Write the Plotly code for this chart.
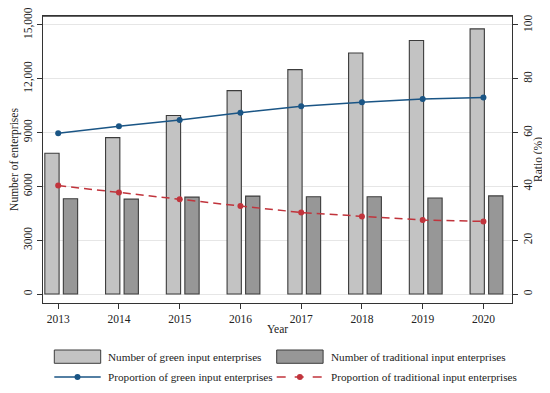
import plotly.graph_objects as go

years = [2013, 2014, 2015, 2016, 2017, 2018, 2019, 2020]
green_count = [7850, 8720, 9950, 11340, 12510, 13440, 14130, 14780]
trad_count = [5310, 5290, 5400, 5460, 5420, 5420, 5350, 5470]
green_ratio = [59.8, 62.4, 64.7, 67.4, 69.8, 71.3, 72.5, 73.0]
trad_ratio = [40.3, 37.7, 35.2, 32.7, 30.3, 28.8, 27.5, 27.0]

left_ticks = [0, 3000, 6000, 9000, 12000, 15000]
left_labels = ["0", "3000", "6000", "9000", "12,000", "15,000"]
right_ticks = [0, 20, 40, 60, 80, 100]

names = ["Number of green input enterprises", "Number of traditional input enterprises",
         "Proportion of green input enterprises", "Proportion of traditional input enterprises"]

FONT = "Liberation Serif"
GREEN_FILL = "#c3c3c3"
TRAD_FILL = "#979797"
EDGE = "#3c3c3c"
BLUE = "#1a5585"
RED = "#c1343c"

# page shows the figure offset by the default 8px body margin
OFF = 8
W, H = 550 - OFF, 393 - OFF
L, R, T, B = 43, 512, 16, 303  # plot area in window pixels

fig = go.Figure()
fig.add_trace(go.Bar(x=years, y=green_count, width=0.235, offset=-0.22,
                     marker=dict(color=GREEN_FILL, line=dict(color=EDGE, width=1.1)),
                     name=names[0], showlegend=False))
fig.add_trace(go.Bar(x=years, y=trad_count, width=0.235, offset=0.085,
                     marker=dict(color=TRAD_FILL, line=dict(color=EDGE, width=1.1)),
                     name=names[1], showlegend=False))
fig.add_trace(go.Scatter(x=years, y=green_ratio, yaxis="y2", mode="lines+markers",
                         line=dict(color=BLUE, width=1.5), marker=dict(color=BLUE, size=6),
                         name=names[2], showlegend=False))
fig.add_trace(go.Scatter(x=years, y=trad_ratio, yaxis="y2", mode="lines+markers",
                         line=dict(color=RED, width=1.5, dash="8px,5px"), marker=dict(color=RED, size=6),
                         name=names[3], showlegend=False))

def px(x):
    return (x - L) / (R - L)

def py(y):
    return (B - y) / (B - T)

shapes = []
annotations = []
# top frame line
shapes.append(dict(type="line", xref="paper", yref="paper", x0=0, x1=1, y0=1, y1=1,
                   line=dict(color="#333", width=1.3)))
# legend: bars
for x0, fill, nm in [(54.3, GREEN_FILL, names[0]), (276.7, TRAD_FILL, names[1])]:
    shapes.append(dict(type="rect", xref="paper", yref="paper",
                       x0=px(x0), x1=px(x0 + 46.4), y0=py(363.3), y1=py(350),
                       fillcolor=fill, line=dict(color=EDGE, width=1)))
    annotations.append(dict(x=px(x0 + 52), y=py(357), xref="paper", yref="paper",
                            text=nm, showarrow=False, xanchor="left", yanchor="middle",
                            font=dict(family=FONT, size=11.2, color="#222")))
# legend: lines
for x0, col, dash, nm in [(54.3, BLUE, "solid", names[2]), (276.7, RED, "dash", names[3])]:
    shapes.append(dict(type="line", xref="paper", yref="paper",
                       x0=px(x0), x1=px(x0 + 46.4), y0=py(377), y1=py(377),
                       line=dict(color=col, width=1.5, dash=dash)))
    cx = x0 + 23.2
    shapes.append(dict(type="circle", xref="paper", yref="paper",
                       x0=px(cx - 3), x1=px(cx + 3), y0=py(380), y1=py(374),
                       fillcolor=col, line=dict(color=col, width=0)))
    annotations.append(dict(x=px(x0 + 52), y=py(377), xref="paper", yref="paper",
                            text=nm, showarrow=False, xanchor="left", yanchor="middle",
                            font=dict(family=FONT, size=11.2, color="#222")))

# right axis title
annotations.append(dict(x=px(538), y=py(160), xref="paper", yref="paper",
                        text="Ratio (%)", textangle=-90, showarrow=False,
                        xanchor="center", yanchor="middle",
                        font=dict(family=FONT, size=11.5, color="#222")))

axis_line = dict(showline=True, linecolor="#333", linewidth=1.3, ticks="outside",
                 ticklen=5, tickcolor="#333", tickwidth=1.2, automargin=False,
                 ticklabeloverflow="allow")

fig.update_layout(
    width=W, height=H,
    margin=dict(l=L - OFF, r=550 - R, t=T - OFF, b=393 - B),
    paper_bgcolor="white", plot_bgcolor="white",
    font=dict(family=FONT, size=11.5, color="#222"),
    barmode="overlay",
    showlegend=False,
    xaxis=dict(range=[2012.75, 2020.47], tickvals=years, ticktext=[str(y) for y in years],
               showgrid=False, zeroline=False, mirror=True,
               title=dict(text="Year", standoff=0, font=dict(size=11.5)),
               **axis_line),
    yaxis=dict(range=[-500, 15500], tickvals=left_ticks, ticktext=left_labels,
               tickangle=-90, showgrid=True, gridcolor="#e6e6e6", gridwidth=1,
               zeroline=False, mirror=False,
               title=dict(text="Number of enterprises", standoff=2, font=dict(size=11.5)),
               **axis_line),
    yaxis2=dict(range=[-100 / 30, 100 + 100 / 30], tickvals=right_ticks,
                ticktext=[str(v) for v in right_ticks], tickangle=-90,
                overlaying="y", side="right", showgrid=False, zeroline=False,
                **axis_line),
    shapes=shapes,
    annotations=annotations,
)

fig.write_html("out.html")
